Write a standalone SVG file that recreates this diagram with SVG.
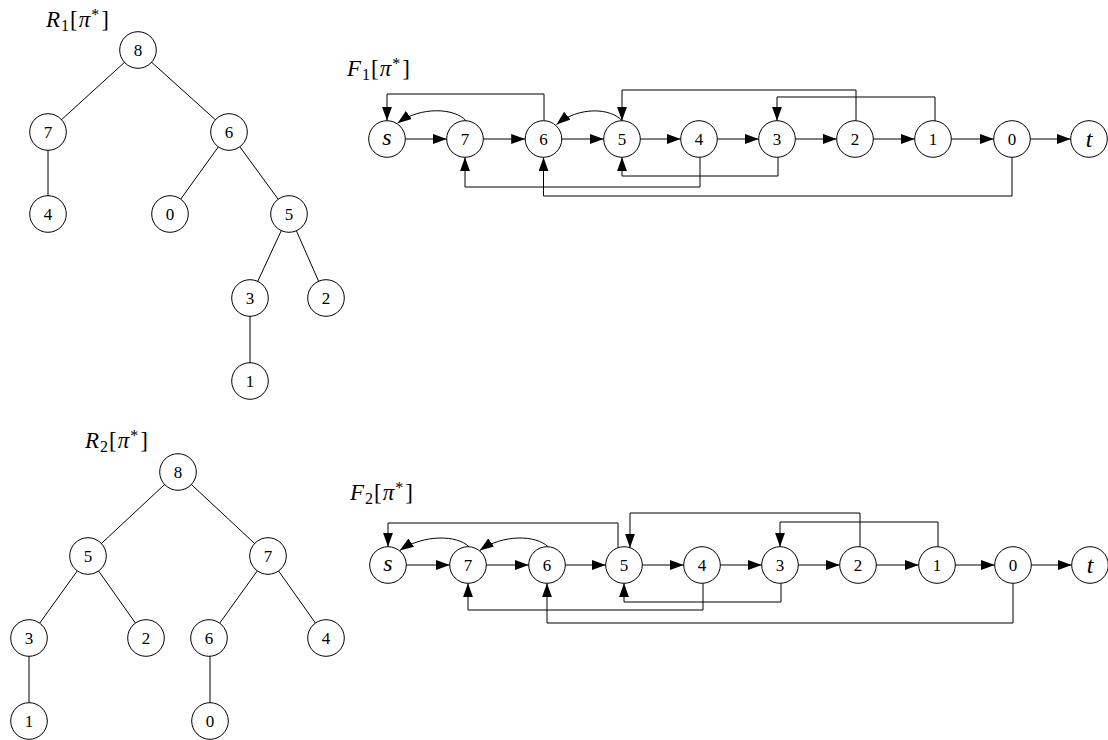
<svg xmlns="http://www.w3.org/2000/svg" width="1108" height="740" viewBox="0 0 1108 740">
<style>
.n circle{fill:#fff;stroke:#000;stroke-width:1}
.n text{font-family:"Liberation Serif","DejaVu Serif",serif;font-size:17px;text-anchor:middle;fill:#000}
.n text.v{font-style:italic;font-size:24px}
.e{stroke:#000;stroke-width:1;fill:none}
.a{marker-end:url(#ah)}
.lbl{font-family:"Liberation Serif","DejaVu Serif",serif;font-size:23px;fill:#000}
.it{font-style:italic}
.sb{font-size:16px}
</style>
<defs>
<marker id="ah" markerUnits="userSpaceOnUse" markerWidth="15" markerHeight="11" refX="14" refY="5" orient="auto">
<path d="M0,0 L14,5 L0,10 z" fill="#000"/>
</marker>
</defs>

<!-- labels -->
<text class="lbl" x="46" y="27"><tspan class="it">R</tspan><tspan class="sb" dx="1" dy="4">1</tspan><tspan dx="1" dy="-4">[</tspan><tspan class="it" dx="1">π</tspan><tspan class="sb" dx="1" dy="-7">*</tspan><tspan dx="2" dy="7">]</tspan></text>
<text class="lbl" x="347" y="76"><tspan class="it">F</tspan><tspan class="sb" dx="1" dy="4">1</tspan><tspan dx="1" dy="-4">[</tspan><tspan class="it" dx="1">π</tspan><tspan class="sb" dx="1" dy="-7">*</tspan><tspan dx="2" dy="7">]</tspan></text>
<text class="lbl" x="85" y="448"><tspan class="it">R</tspan><tspan class="sb" dx="1" dy="4">2</tspan><tspan dx="1" dy="-4">[</tspan><tspan class="it" dx="1">π</tspan><tspan class="sb" dx="1" dy="-7">*</tspan><tspan dx="2" dy="7">]</tspan></text>
<text class="lbl" x="350" y="500"><tspan class="it">F</tspan><tspan class="sb" dx="1" dy="4">2</tspan><tspan dx="1" dy="-4">[</tspan><tspan class="it" dx="1">π</tspan><tspan class="sb" dx="1" dy="-7">*</tspan><tspan dx="2" dy="7">]</tspan></text>

<g id="connectors">
<!-- R1 tree edges -->
<line class="e" x1="138" y1="50" x2="48" y2="132"/>
<line class="e" x1="138" y1="50" x2="229" y2="132"/>
<line class="e" x1="48" y1="132" x2="48" y2="214"/>
<line class="e" x1="229" y1="132" x2="170" y2="214"/>
<line class="e" x1="229" y1="132" x2="289" y2="214"/>
<line class="e" x1="289" y1="214" x2="250" y2="298"/>
<line class="e" x1="289" y1="214" x2="326" y2="298"/>
<line class="e" x1="250" y1="298" x2="250" y2="381"/>
<!-- R2 tree edges -->
<line class="e" x1="178" y1="472" x2="88" y2="556"/>
<line class="e" x1="178" y1="472" x2="268" y2="556"/>
<line class="e" x1="88" y1="556" x2="29" y2="638"/>
<line class="e" x1="88" y1="556" x2="146" y2="638"/>
<line class="e" x1="268" y1="556" x2="209" y2="638"/>
<line class="e" x1="268" y1="556" x2="326" y2="638"/>
<line class="e" x1="29" y1="638" x2="29" y2="722"/>
<line class="e" x1="210" y1="638" x2="210" y2="722"/>

<!-- F1 chain -->
<line class="e a" x1="405.3" y1="139" x2="446.7" y2="139"/>
<line class="e a" x1="483.3" y1="139" x2="525.2" y2="139"/>
<line class="e a" x1="561.8" y1="139" x2="603.7" y2="139"/>
<line class="e a" x1="640.3" y1="139" x2="680.7" y2="139"/>
<line class="e a" x1="717.3" y1="139" x2="758.7" y2="139"/>
<line class="e a" x1="795.3" y1="139" x2="836.7" y2="139"/>
<line class="e a" x1="873.3" y1="139" x2="914.7" y2="139"/>
<line class="e a" x1="951.3" y1="139" x2="993.7" y2="139"/>
<line class="e a" x1="1030.3" y1="139" x2="1070.7" y2="139"/>
<!-- F1 arcs -->
<path class="e a" d="M466,120.8 C455,108 421,106 397.5,123.2"/>
<path class="e a" d="M622,120.7 C611,108 579,106 556.5,124.5"/>
<!-- F1 orthogonal -->
<path class="e a" d="M544,120.7 V94 H387 V120.7"/>
<path class="e a" d="M856,120.7 V90 H622 V120.7"/>
<path class="e a" d="M935,121 V97 H777 V120.7"/>
<path class="e a" d="M778,157.3 V176 H622 V157.3"/>
<path class="e a" d="M700,157.3 V187 H465 V157.3"/>
<path class="e a" d="M1012,157.3 V196 H543.5 V157.3"/>

<!-- F2 chain -->
<line class="e a" x1="406.3" y1="565" x2="449.7" y2="565"/>
<line class="e a" x1="486.3" y1="565" x2="528.7" y2="565"/>
<line class="e a" x1="565.3" y1="565" x2="605.7" y2="565"/>
<line class="e a" x1="642.3" y1="565" x2="683.7" y2="565"/>
<line class="e a" x1="720.3" y1="565" x2="761.7" y2="565"/>
<line class="e a" x1="798.3" y1="565" x2="839.7" y2="565"/>
<line class="e a" x1="876.3" y1="565" x2="918.7" y2="565"/>
<line class="e a" x1="955.3" y1="565" x2="994.7" y2="565"/>
<line class="e a" x1="1031.3" y1="565" x2="1071.7" y2="565"/>
<!-- F2 arcs -->
<path class="e a" d="M469,546.7 C457,535 424,534 399.7,550.6"/>
<path class="e a" d="M548,546.7 C536,535 503,534 479.7,550.6"/>
<!-- F2 orthogonal -->
<path class="e a" d="M618,547.5 V523 H388 V546.7"/>
<path class="e a" d="M860,546.8 V513 H630 V547.7"/>
<path class="e a" d="M938,546.9 V522 H780 V546.7"/>
<path class="e a" d="M781,583.3 V602 H624 V583.3"/>
<path class="e a" d="M703,583.3 V610 H468 V583.3"/>
<path class="e a" d="M1013,583.3 V623 H547 V583.3"/>
</g>

<!-- R1 nodes -->
<g id="r1-8" class="n"><circle cx="138" cy="50" r="18.3"/><text x="138" y="56">8</text></g>
<g id="r1-7" class="n"><circle cx="48" cy="132" r="18.3"/><text x="48" y="138">7</text></g>
<g id="r1-6" class="n"><circle cx="229" cy="132" r="18.3"/><text x="229" y="138">6</text></g>
<g id="r1-4" class="n"><circle cx="48" cy="214" r="18.3"/><text x="48" y="220">4</text></g>
<g id="r1-0" class="n"><circle cx="170" cy="214" r="18.3"/><text x="170" y="220">0</text></g>
<g id="r1-5" class="n"><circle cx="289" cy="214" r="18.3"/><text x="289" y="220">5</text></g>
<g id="r1-3" class="n"><circle cx="250" cy="298" r="18.3"/><text x="250" y="304">3</text></g>
<g id="r1-2" class="n"><circle cx="326" cy="298" r="18.3"/><text x="326" y="304">2</text></g>
<g id="r1-1" class="n"><circle cx="250" cy="381" r="18.3"/><text x="250" y="387">1</text></g>

<!-- R2 nodes -->
<g id="r2-8" class="n"><circle cx="178" cy="472" r="18.3"/><text x="178" y="478">8</text></g>
<g id="r2-5" class="n"><circle cx="88" cy="556" r="18.3"/><text x="88" y="562">5</text></g>
<g id="r2-7" class="n"><circle cx="268" cy="556" r="18.3"/><text x="268" y="562">7</text></g>
<g id="r2-3" class="n"><circle cx="29" cy="638" r="18.3"/><text x="29" y="644">3</text></g>
<g id="r2-2" class="n"><circle cx="146" cy="638" r="18.3"/><text x="146" y="644">2</text></g>
<g id="r2-6" class="n"><circle cx="209" cy="638" r="18.3"/><text x="209" y="644">6</text></g>
<g id="r2-4" class="n"><circle cx="326" cy="638" r="18.3"/><text x="326" y="644">4</text></g>
<g id="r2-1" class="n"><circle cx="29" cy="721" r="18.3"/><text x="29" y="727">1</text></g>
<g id="r2-0" class="n"><circle cx="210" cy="721" r="18.3"/><text x="210" y="727">0</text></g>

<!-- F1 nodes -->
<g id="f1-s" class="n"><circle cx="387" cy="139" r="18.3"/><text class="v" x="387" y="145">s</text></g>
<g id="f1-7" class="n"><circle cx="465" cy="139" r="18.3"/><text x="465" y="145">7</text></g>
<g id="f1-6" class="n"><circle cx="543.5" cy="139" r="18.3"/><text x="543.5" y="145">6</text></g>
<g id="f1-5" class="n"><circle cx="622" cy="139" r="18.3"/><text x="622" y="145">5</text></g>
<g id="f1-4" class="n"><circle cx="699" cy="139" r="18.3"/><text x="699" y="145">4</text></g>
<g id="f1-3" class="n"><circle cx="777" cy="139" r="18.3"/><text x="777" y="145">3</text></g>
<g id="f1-2" class="n"><circle cx="855" cy="139" r="18.3"/><text x="855" y="145">2</text></g>
<g id="f1-1" class="n"><circle cx="933" cy="139" r="18.3"/><text x="933" y="145">1</text></g>
<g id="f1-0" class="n"><circle cx="1012" cy="139" r="18.3"/><text x="1012" y="145">0</text></g>
<g id="f1-t" class="n"><circle cx="1089" cy="139" r="18.3"/><text class="v" x="1089" y="147">t</text></g>

<!-- F2 nodes -->
<g id="f2-s" class="n"><circle cx="388" cy="565" r="18.3"/><text class="v" x="388" y="571">s</text></g>
<g id="f2-7" class="n"><circle cx="468" cy="565" r="18.3"/><text x="468" y="571">7</text></g>
<g id="f2-6" class="n"><circle cx="547" cy="565" r="18.3"/><text x="547" y="571">6</text></g>
<g id="f2-5" class="n"><circle cx="624" cy="565" r="18.3"/><text x="624" y="571">5</text></g>
<g id="f2-4" class="n"><circle cx="702" cy="565" r="18.3"/><text x="702" y="571">4</text></g>
<g id="f2-3" class="n"><circle cx="780" cy="565" r="18.3"/><text x="780" y="571">3</text></g>
<g id="f2-2" class="n"><circle cx="858" cy="565" r="18.3"/><text x="858" y="571">2</text></g>
<g id="f2-1" class="n"><circle cx="937" cy="565" r="18.3"/><text x="937" y="571">1</text></g>
<g id="f2-0" class="n"><circle cx="1013" cy="565" r="18.3"/><text x="1013" y="571">0</text></g>
<g id="f2-t" class="n"><circle cx="1090" cy="565" r="18.3"/><text class="v" x="1090" y="573">t</text></g>
</svg>
